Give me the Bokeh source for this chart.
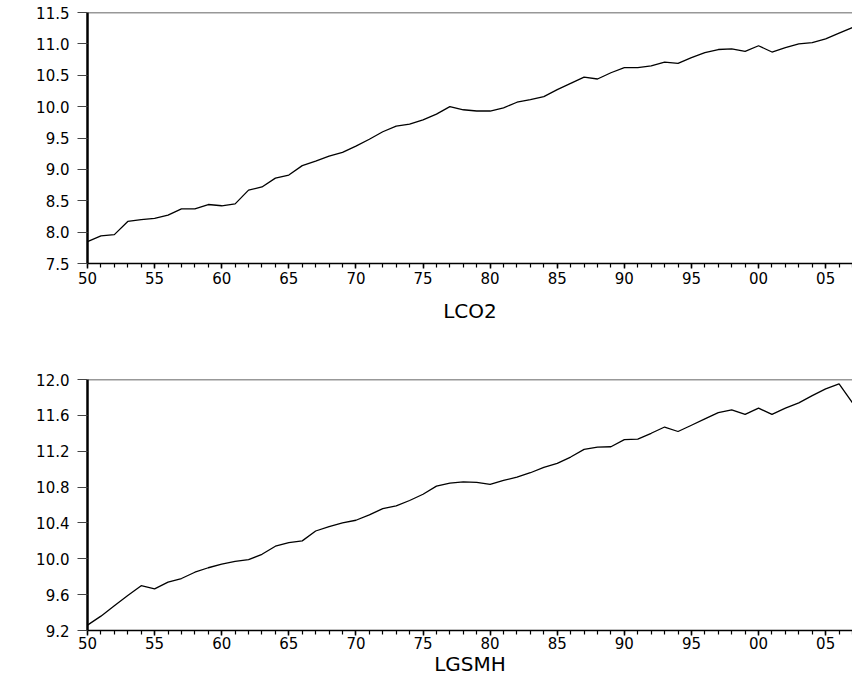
from bokeh.plotting import figure
from bokeh.models import FixedTicker, Span, NumeralTickFormatter, Range1d
from bokeh.layouts import column
from bokeh.embed import file_html
from bokeh.resources import INLINE

years = list(range(1950, 2008))

lco2 = [7.85, 7.94, 7.96, 8.17, 8.20, 8.22, 8.27, 8.37, 8.37, 8.44,
        8.42, 8.45, 8.67, 8.72, 8.86, 8.91, 9.06, 9.13, 9.21, 9.27,
        9.37, 9.48, 9.60, 9.69, 9.72, 9.79, 9.88, 10.00, 9.95, 9.93,
        9.93, 9.98, 10.07, 10.11, 10.16, 10.27, 10.37, 10.47, 10.44, 10.54,
        10.62, 10.62, 10.65, 10.71, 10.69, 10.78, 10.86, 10.91, 10.92, 10.88,
        10.97, 10.87, 10.94, 11.00, 11.02, 11.08, 11.17, 11.26]

lgsmh = [9.26, 9.36, 9.475, 9.59, 9.70, 9.665, 9.74, 9.78, 9.85, 9.90,
         9.94, 9.97, 9.99, 10.05, 10.14, 10.18, 10.20, 10.31, 10.36, 10.40,
         10.43, 10.49, 10.56, 10.59, 10.65, 10.72, 10.81, 10.845, 10.857, 10.853,
         10.83, 10.875, 10.91, 10.96, 11.02, 11.065, 11.135, 11.22, 11.245, 11.25,
         11.33, 11.335, 11.40, 11.47, 11.42, 11.49, 11.56, 11.63, 11.66, 11.61,
         11.68, 11.61, 11.68, 11.74, 11.82, 11.895, 11.95, 11.74]

x_ticks = [1950, 1955, 1960, 1965, 1970, 1975, 1980, 1985, 1990, 1995, 2000, 2005]
x_tick_labels = ["50", "55", "60", "65", "70", "75", "80", "85", "90", "95", "00", "05"]

y1_ticks = [7.5, 8.0, 8.5, 9.0, 9.5, 10.0, 10.5, 11.0, 11.5]
y2_ticks = [9.2, 9.6, 10.0, 10.4, 10.8, 11.2, 11.6, 12.0]

FONT = "DejaVu Sans"


def make_panel(values, yticks, label, label_size, top_border, bottom_border):
    p = figure(frame_width=765, frame_height=251,
               x_range=Range1d(years[0], years[-1]),
               y_range=Range1d(yticks[0], yticks[-1]),
               output_backend="svg", toolbar_location=None,
               min_border_left=87, min_border_right=0,
               min_border_top=top_border, min_border_bottom=bottom_border)
    p.line(years, values, line_color="black", line_width=1.3)
    p.xgrid.visible = False
    p.ygrid.visible = False
    p.outline_line_color = None
    p.background_fill_color = "white"
    p.border_fill_color = "white"

    p.add_layout(Span(location=yticks[-1], dimension="width",
                      line_color="#333333", line_width=1.5))

    xa = p.xaxis[0]
    xa.ticker = FixedTicker(ticks=x_ticks, minor_ticks=years)
    xa.major_label_overrides = {t: l for t, l in zip(x_ticks, x_tick_labels)}
    xa.axis_line_color = "black"
    xa.axis_line_width = 1.5
    xa.major_tick_in = 0
    xa.major_tick_out = 5
    xa.minor_tick_in = 0
    xa.minor_tick_out = 4
    xa.major_tick_line_width = 1.5
    xa.minor_tick_line_width = 1.2
    xa.major_label_standoff = 3
    xa.major_label_text_font = FONT
    xa.major_label_text_font_size = "15px"
    xa.major_label_text_color = "black"
    xa.axis_label = label
    xa.axis_label_text_font = FONT
    xa.axis_label_text_font_style = "normal"
    xa.axis_label_text_font_size = label_size
    xa.axis_label_text_color = "black"

    ya = p.yaxis[0]
    ya.ticker = FixedTicker(ticks=yticks, minor_ticks=[])
    ya.formatter = NumeralTickFormatter(format="0.0")
    ya.axis_line_color = "black"
    ya.axis_line_width = 2.5
    ya.major_tick_in = 0
    ya.major_tick_out = 10
    ya.major_tick_line_color = "#444444"
    ya.minor_tick_line_color = None
    ya.major_label_standoff = 8
    ya.major_label_text_font = FONT
    ya.major_label_text_font_size = "15px"
    ya.major_label_text_color = "black"
    return p


p1 = make_panel(lco2, y1_ticks, "LCO2", "20px", 12, 60)
p1.xaxis[0].axis_label_standoff = 12
p2 = make_panel(lgsmh, y2_ticks, "LGSMH", "20px", 54, 26)
p2.xaxis[0].axis_label_standoff = 0
p2.xaxis[0].major_label_standoff = 1

layout = column(p1, p2, spacing=0)
open("out.html", "w").write(file_html(layout, INLINE))
